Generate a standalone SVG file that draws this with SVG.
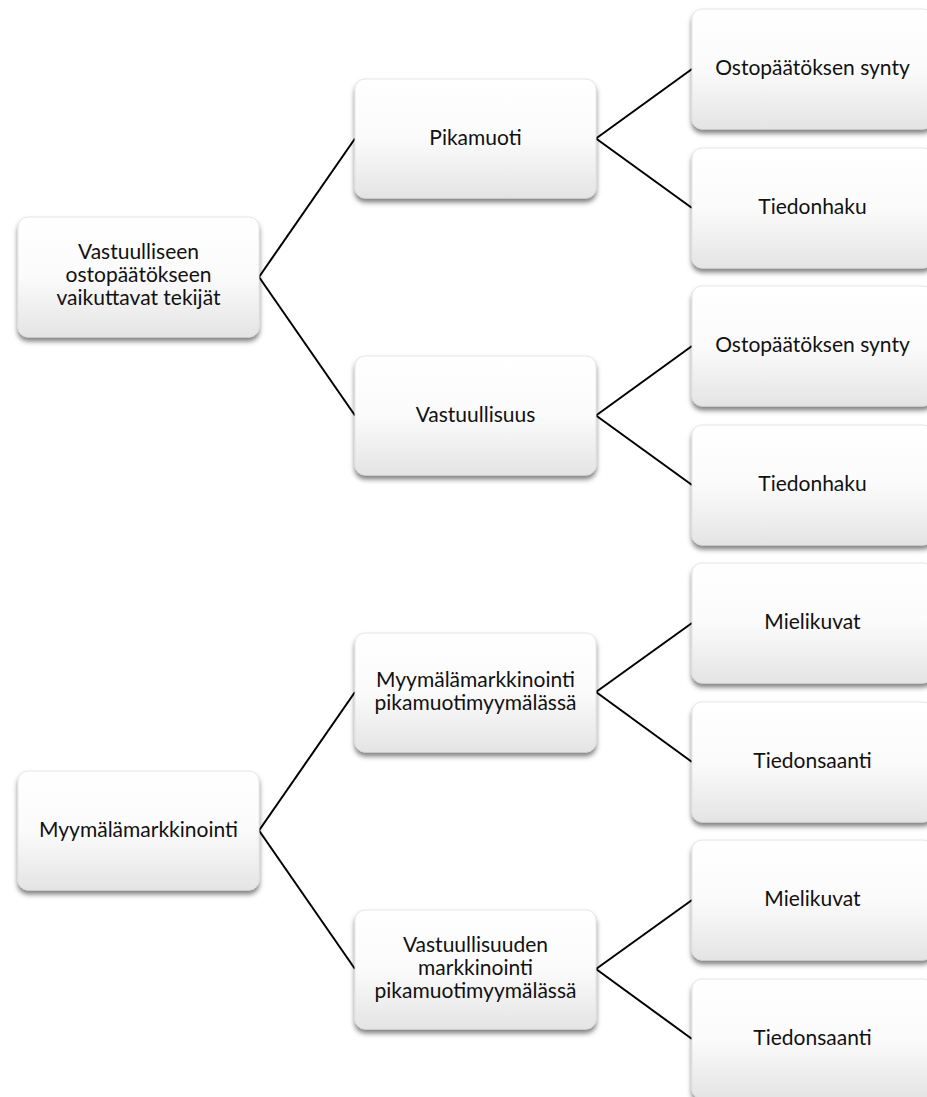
<svg xmlns="http://www.w3.org/2000/svg" width="927" height="1097" viewBox="0 0 927 1097">
<defs>
<linearGradient id="g" x1="0" y1="0" x2="0" y2="1">
<stop offset="0" stop-color="#ffffff"/>
<stop offset="0.5" stop-color="#fbfbfb"/>
<stop offset="1" stop-color="#e4e4e4"/>
</linearGradient>
<filter id="sh" x="-10%" y="-10%" width="120%" height="130%">
<feDropShadow dx="0" dy="4" stdDeviation="2.5" flood-color="#000" flood-opacity="0.5"/>
</filter>
</defs>
<style>
.n rect{fill:url(#g);stroke:#e0e0e0;stroke-width:0.8;filter:url(#sh)}
.n text{font-family:Lato,"Liberation Sans",sans-serif;font-size:21px;fill:#111;text-anchor:middle}
.c line{stroke:#000;stroke-width:2}
</style>
<rect width="927" height="1097" fill="#fff"/>
<g id="connectors" class="c">
<line x1="259" y1="277" x2="355" y2="138.5"/>
<line x1="259" y1="277" x2="355" y2="415.5"/>
<line x1="596" y1="138.5" x2="692" y2="69"/>
<line x1="596" y1="138.5" x2="692" y2="208"/>
<line x1="596" y1="415.5" x2="692" y2="346"/>
<line x1="596" y1="415.5" x2="692" y2="485"/>
<line x1="259" y1="830.5" x2="355" y2="692"/>
<line x1="259" y1="830.5" x2="355" y2="969"/>
<line x1="596" y1="692" x2="692" y2="623"/>
<line x1="596" y1="692" x2="692" y2="762"/>
<line x1="596" y1="969" x2="692" y2="900"/>
<line x1="596" y1="969" x2="692" y2="1039"/>
</g>
<g id="root1" class="n"><rect x="18" y="217" width="241" height="120" rx="10"/>
<text x="138.5" y="259">Vastuulliseen</text><text x="138.5" y="282">ostopäätökseen</text><text x="138.5" y="305">vaikuttavat tekijät</text></g>
<g id="mid1" class="n"><rect x="355" y="79" width="241" height="119" rx="10"/><text x="475.5" y="145">Pikamuoti</text></g>
<g id="mid2" class="n"><rect x="355" y="356" width="241" height="119" rx="10"/><text x="475.5" y="422">Vastuullisuus</text></g>
<g id="leaf1" class="n"><rect x="692" y="9" width="241" height="120" rx="10"/><text x="812.5" y="75">Ostopäätöksen synty</text></g>
<g id="leaf2" class="n"><rect x="692" y="148" width="241" height="120" rx="10"/><text x="812.5" y="214">Tiedonhaku</text></g>
<g id="leaf3" class="n"><rect x="692" y="286" width="241" height="120" rx="10"/><text x="812.5" y="352">Ostopäätöksen synty</text></g>
<g id="leaf4" class="n"><rect x="692" y="425" width="241" height="120" rx="10"/><text x="812.5" y="491">Tiedonhaku</text></g>
<g id="root2" class="n"><rect x="18" y="771" width="241" height="119" rx="10"/><text x="138.5" y="837">Myymälämarkkinointi</text></g>
<g id="mid3" class="n"><rect x="355" y="633" width="241" height="119" rx="10"/>
<text x="475.5" y="687">Myymälämarkkinointi</text><text x="475.5" y="710">pikamuotimyymälässä</text></g>
<g id="mid4" class="n"><rect x="355" y="910" width="241" height="119" rx="10"/>
<text x="475.5" y="952">Vastuullisuuden</text><text x="475.5" y="975">markkinointi</text><text x="475.5" y="998">pikamuotimyymälässä</text></g>
<g id="leaf5" class="n"><rect x="692" y="563" width="241" height="120" rx="10"/><text x="812.5" y="629">Mielikuvat</text></g>
<g id="leaf6" class="n"><rect x="692" y="702" width="241" height="120" rx="10"/><text x="812.5" y="768">Tiedonsaanti</text></g>
<g id="leaf7" class="n"><rect x="692" y="840" width="241" height="120" rx="10"/><text x="812.5" y="906">Mielikuvat</text></g>
<g id="leaf8" class="n"><rect x="692" y="979" width="241" height="120" rx="10"/><text x="812.5" y="1045">Tiedonsaanti</text></g>
</svg>
